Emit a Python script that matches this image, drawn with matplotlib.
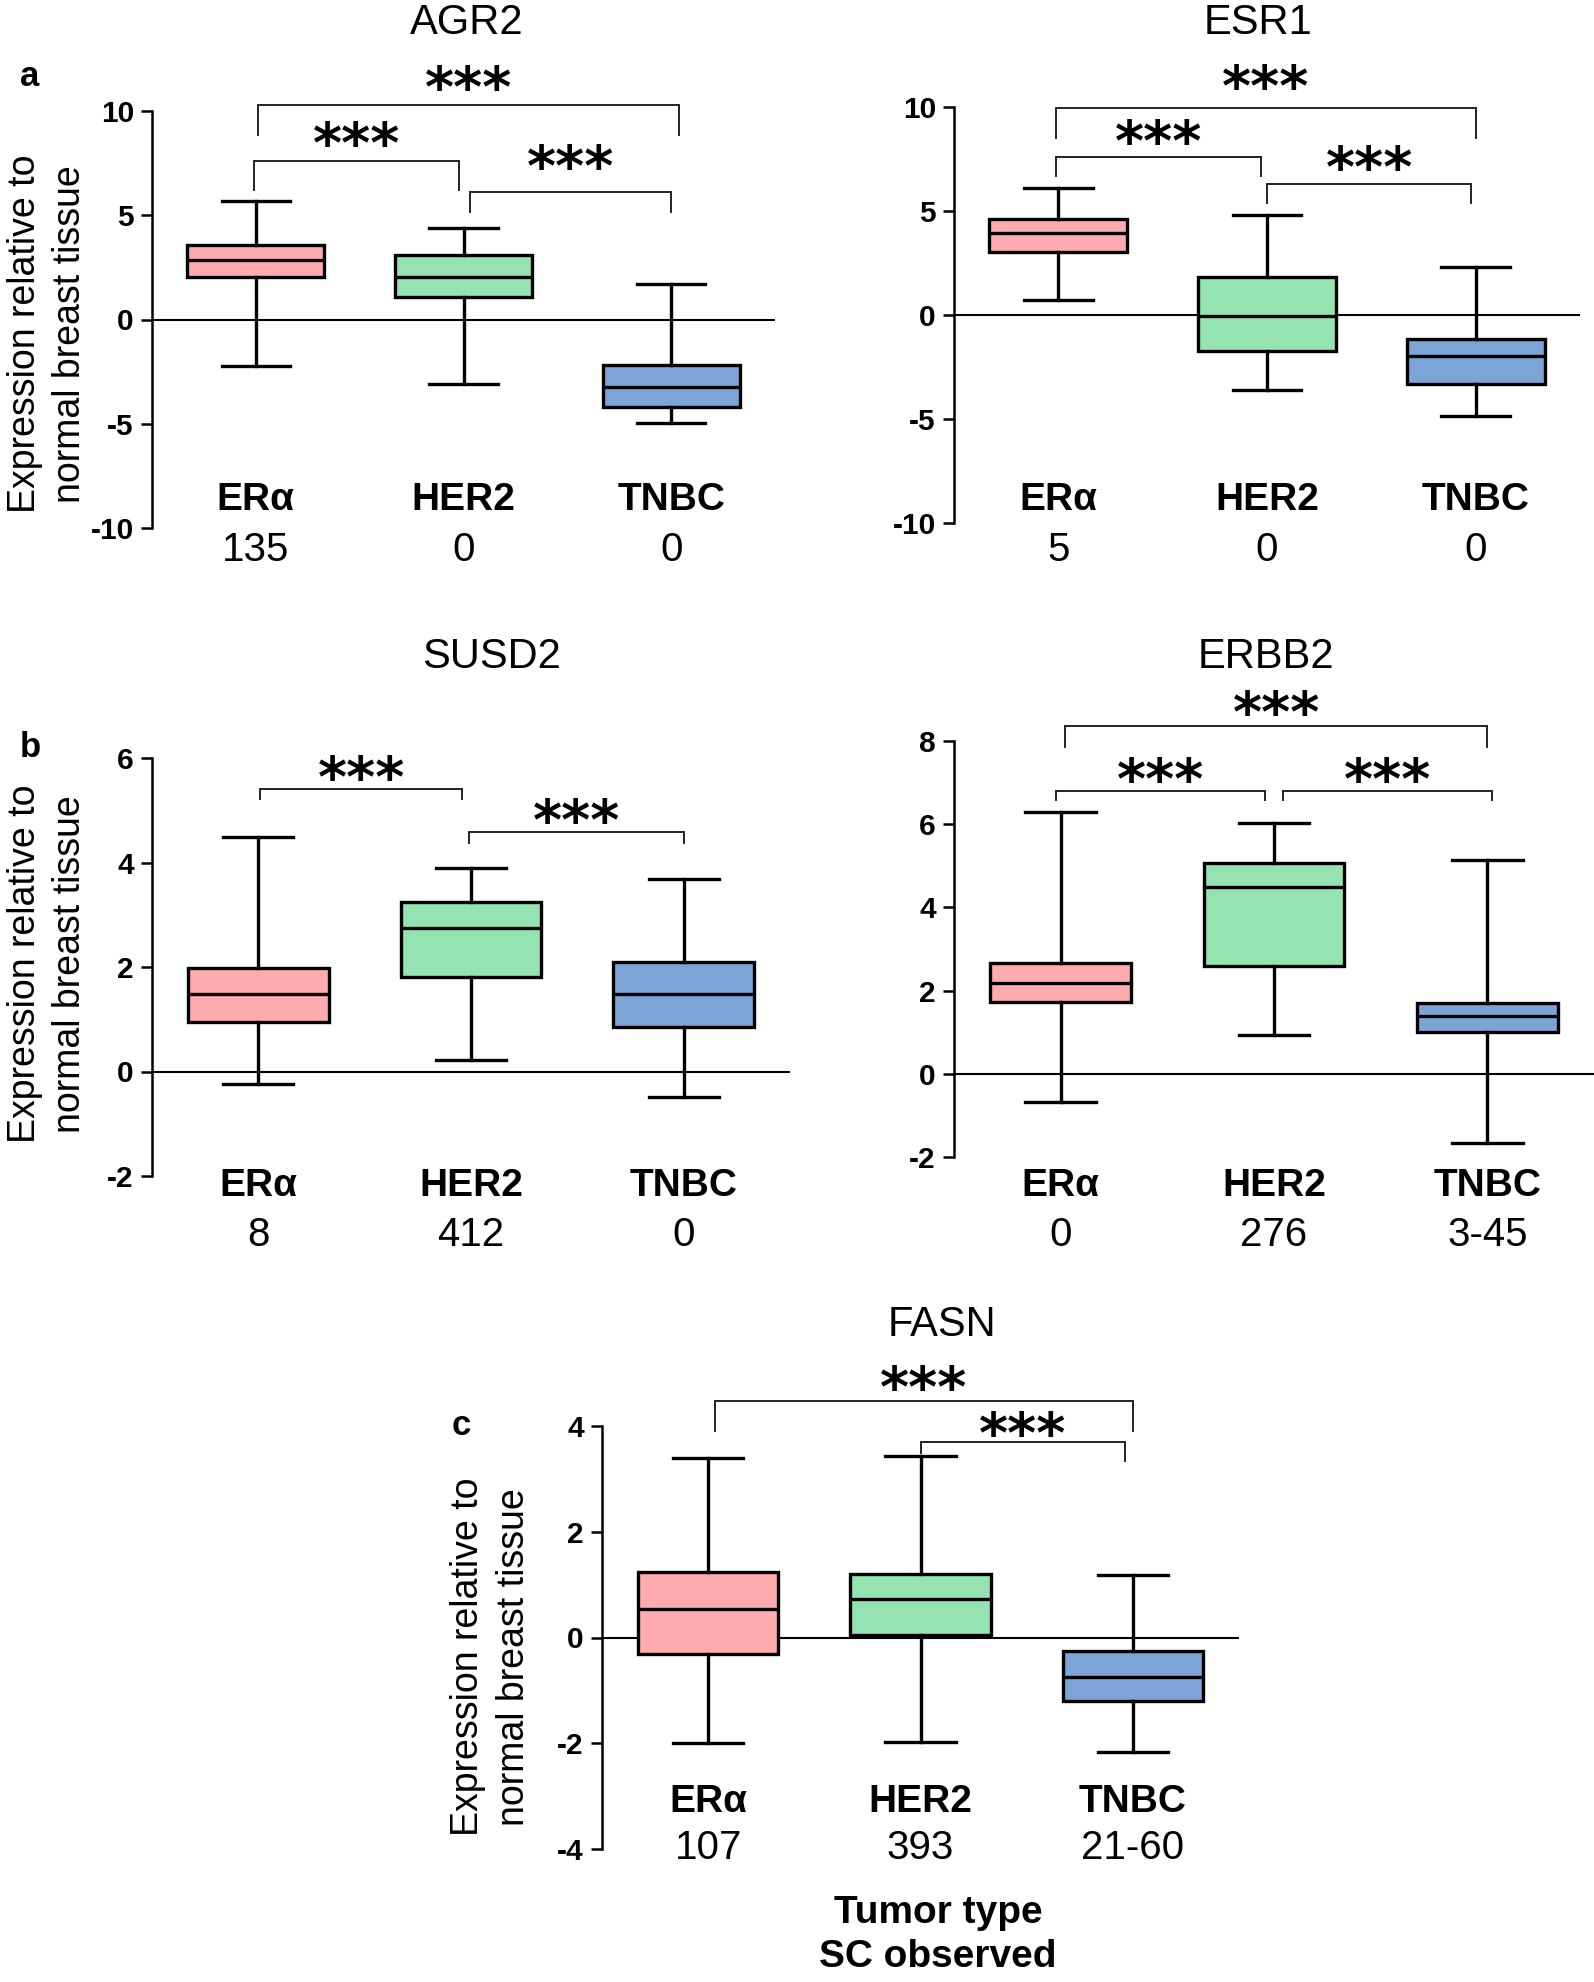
import matplotlib
matplotlib.use('Agg')
import matplotlib.pyplot as plt
from matplotlib.transforms import blended_transform_factory

plt.rcParams['font.family'] = ['Liberation Sans', 'DejaVu Sans']
plt.rcParams['axes.unicode_minus'] = False

NARROW = ['Liberation Sans Narrow', 'Liberation Sans', 'DejaVu Sans']
W, H = 1594, 1982

groups = ['ERα', 'HER2', 'TNBC']
colors = ['#FFABAF', '#95E3B1', '#7DA4D6']

# five-number summaries per group: whisker low, Q1, median, Q3, whisker high
agr2 = [[-2.23, 2.02, 2.87, 3.56, 5.69],
        [-3.10, 1.10, 2.04, 3.10, 4.41],
        [-4.96, -4.22, -3.23, -2.16, 1.72]]
esr1 = [[0.71, 3.04, 3.93, 4.60, 6.09],
        [-3.61, -1.74, -0.07, 1.83, 4.83],
        [-4.87, -3.32, -1.99, -1.14, 2.29]]
susd2 = [[-0.24, 0.94, 1.49, 1.98, 4.49],
         [0.22, 1.80, 2.75, 3.25, 3.89],
         [-0.49, 0.86, 1.49, 2.10, 3.69]]
erbb2 = [[-0.67, 1.72, 2.18, 2.67, 6.29],
         [0.93, 2.60, 4.49, 5.07, 6.02],
         [-1.67, 1.00, 1.40, 1.70, 5.15]]
fasn = [[-1.99, -0.31, 0.53, 1.23, 3.40],
        [-1.98, 0.04, 0.73, 1.20, 3.43],
        [-2.17, -1.20, -0.75, -0.25, 1.18]]

# SC observed per group
sc_agr2 = ['135', '0', '0']
sc_esr1 = ['5', '0', '0']
sc_susd2 = ['8', '412', '0']
sc_erbb2 = ['0', '276', '3-45']
sc_fasn = ['107', '393', '21-60']

# significance brackets: left x, right x, bar y, left leg end, right leg end, star y
br_agr2 = [(0.01, 2.04, 10.27, 8.83, 8.83, 11.5),
           (-0.01, 0.98, 7.62, 6.2, 6.2, 8.8),
           (1.03, 2.0, 6.1, 5.16, 5.16, 7.7)]
br_esr1 = [(-0.01, 2.0, 9.96, 8.49, 8.49, 11.33),
           (-0.01, 0.97, 7.6, 6.68, 6.68, 8.72),
           (1.0, 1.98, 6.32, 5.38, 5.38, 7.48)]
br_susd2 = [(0.01, 0.96, 5.41, 5.22, 5.22, 5.78),
            (0.99, 2.0, 4.59, 4.37, 4.37, 4.94)]
br_erbb2 = [(0.02, 2.0, 8.35, 7.86, 7.86, 8.87),
            (-0.02, 0.96, 6.81, 6.57, 6.57, 7.25),
            (1.04, 2.02, 6.81, 6.57, 6.57, 7.25)]
br_fasn = [(0.03, 2.0, 4.47, 3.91, 3.91, 4.88),
           (1.0, 1.965, 3.69, 3.48, 3.34, 4.0)]

ticks_10 = [-10, -5, 0, 5, 10]
ticks_susd2 = [-2, 0, 2, 4, 6]
ticks_erbb2 = [-2, 0, 2, 4, 6, 8]
ticks_fasn = [-4, -2, 0, 2, 4]

fig = plt.figure(figsize=(W / 100, H / 100), dpi=100)


def fy(px):
    return 1 - px / H


def panel(box, stats, sc, brackets, ticks, gene, title_xy, lab_y, num_y):
    left, right, top, bottom = box
    ax = fig.add_axes([left / W, fy(bottom), (right - left) / W, (bottom - top) / H])
    bxp_stats = [dict(whislo=s[0], q1=s[1], med=s[2], q3=s[3], whishi=s[4], fliers=[])
                 for s in stats]
    lw = 2.4
    parts = ax.bxp(bxp_stats, positions=range(3), widths=0.66, capwidths=0.33,
                   patch_artist=True, showfliers=False,
                   boxprops=dict(linewidth=lw, edgecolor='black'),
                   medianprops=dict(linewidth=lw, color='black'),
                   whiskerprops=dict(linewidth=lw, color='black'),
                   capprops=dict(linewidth=lw, color='black'))
    for patch, c in zip(parts['boxes'], colors):
        patch.set_facecolor(c)
    ax.axhline(0, color='black', lw=1.5, zorder=0)
    ax.set_xlim(-0.5, 2.5)
    ax.set_ylim(ticks[0], ticks[-1])
    for s in ['top', 'right', 'bottom']:
        ax.spines[s].set_visible(False)
    ax.spines['left'].set_linewidth(1.8)
    ax.set_xticks([])
    ax.set_yticks(ticks)
    ax.set_yticklabels([str(t) for t in ticks], fontsize=21.5, fontweight='bold')
    ax.tick_params(axis='y', length=8, width=1.8, pad=5)
    ax.patch.set_alpha(0)

    for x1, x2, yb, yl, yr, ys in brackets:
        ax.plot([x1, x1, x2, x2], [yl, yb, yb, yr], color='#222222', lw=1.4,
                clip_on=False, solid_joinstyle='miter')
        ax.annotate('***', ((x1 + x2) / 2, ys), xytext=(0, -8),
                    textcoords='offset points', ha='center', va='center',
                    fontsize=40, fontweight='bold', family='DejaVu Sans',
                    annotation_clip=False)

    tr = blended_transform_factory(ax.transData, fig.transFigure)
    for i, (g, n) in enumerate(zip(groups, sc)):
        ax.text(i, fy(lab_y), g, transform=tr, ha='center', va='center',
                fontsize=28, fontweight='bold', family=NARROW)
        ax.text(i, fy(num_y), n, transform=tr, ha='center', va='center',
                fontsize=29, family=NARROW)
    fig.text(title_xy[0] / W, fy(title_xy[1]), gene, ha='center', va='center',
             fontsize=30)
    return ax


def ylabel(x1, x2, yc):
    for x, s in [(x1, 'Expression relative to'), (x2, 'normal breast tissue')]:
        fig.text(x / W, fy(yc), s, rotation=90, rotation_mode='anchor',
                 ha='center', va='baseline', fontsize=27)


panel((152, 775, 111, 528), agr2, sc_agr2, br_agr2, ticks_10, 'AGR2', (467, 23), 500, 550)
panel((954, 1580, 107, 523), esr1, sc_esr1, br_esr1, ticks_10, 'ESR1', (1258, 23), 500, 550)
panel((152, 790, 758, 1176), susd2, sc_susd2, br_susd2, ticks_susd2, 'SUSD2', (492, 657), 1186, 1235)
panel((954, 1594, 741, 1157), erbb2, sc_erbb2, br_erbb2, ticks_erbb2, 'ERBB2', (1266, 657), 1186, 1235)
panel((602, 1239, 1426, 1849), fasn, sc_fasn, br_fasn, ticks_fasn, 'FASN', (942, 1325), 1802, 1848)

ylabel(35, 80, 334)
ylabel(35, 80, 964)
ylabel(478, 524, 1657)

fig.text(20 / W, fy(86), 'a', fontsize=25, fontweight='bold', va='baseline')
fig.text(20 / W, fy(757), 'b', fontsize=25, fontweight='bold', va='baseline')
fig.text(452 / W, fy(1435), 'c', fontsize=25, fontweight='bold', va='baseline')

fig.text(938 / W, fy(1913), 'Tumor type', ha='center', va='center', fontsize=28,
         fontweight='bold', family=NARROW)
fig.text(938 / W, fy(1957), 'SC observed', ha='center', va='center', fontsize=28,
         fontweight='bold', family=NARROW)

fig.savefig('out.png', dpi=100, facecolor='white')
